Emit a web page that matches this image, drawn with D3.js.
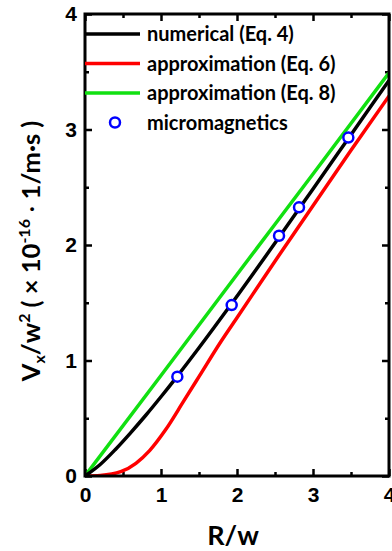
<!DOCTYPE html>
<html>
<head>
<meta charset="utf-8">
<script src="https://cdn.jsdelivr.net/npm/d3@7"></script>
<style>
  body { margin: 0; background: #fff; }
  svg { font-family: Lato, 'Open Sans', sans-serif; font-weight: bold; }
  .tick-label { font-size: 21px; }
  .legend-text { font-size: 20px; }
</style>
</head>
<body>
<svg width="392" height="551"></svg>
<script>
// values
const numericalX = [0, 0.2, 0.4, 0.6, 0.8, 1.0, 1.2, 1.5, 1.93, 2.5, 3.0, 3.5, 4.0];
const numericalY = [0, 0.1, 0.23, 0.374, 0.526, 0.686, 0.852, 1.11, 1.493, 2.017, 2.485, 2.955, 3.425];

const approx6X = [0, 0.2, 0.47, 0.67, 0.85, 1.06, 1.3, 1.5, 1.785, 2.0, 2.5, 3.0, 3.5, 4.0];
const approx6Y = [0, 0.005, 0.037, 0.11, 0.22, 0.4, 0.65, 0.86, 1.16, 1.37, 1.86, 2.34, 2.82, 3.29];

const approx8X = [0, 1.0, 2.0, 3.0, 4.0];
const approx8Y = [0, 0.87, 1.745, 2.615, 3.49];

const microX = [1.215, 1.93, 2.553, 2.816, 3.465];
const microY = [0.86, 1.48, 2.08, 2.326, 2.93];

const xTicks = [0, 1, 2, 3, 4];
const yTicks = [0, 1, 2, 3, 4];
const minorTicks = [0.5, 1.5, 2.5, 3.5];

const legendItems = [
    { label: 'numerical (Eq. 4)', color: '#000000', type: 'line' },
    { label: 'approximation (Eq. 6)', color: '#ff0000', type: 'line' },
    { label: 'approximation (Eq. 8)', color: '#11e011', type: 'line' },
    { label: 'micromagnetics', color: '#0000ff', type: 'circle' }
];

const svg = d3.select('svg');
const width = +svg.attr('width');
const height = +svg.attr('height');

const margin = { top: 14, right: 3, bottom: 75, left: 85 };
const innerWidth = width - margin.left - margin.right;
const innerHeight = height - margin.top - margin.bottom;

const xScale = d3.scaleLinear().domain([0, 4]).range([0, innerWidth]);
const yScale = d3.scaleLinear().domain([0, 4]).range([innerHeight, 0]);

const g = svg.append('g')
    .attr('transform', `translate(${margin.left}, ${margin.top})`);

// inward ticks on all four sides
const addAxis = (axis, transform) => {
    const a = g.append('g').attr('transform', transform).call(axis);
    a.select('.domain').remove();
    a.selectAll('line').attr('stroke', '#000').attr('stroke-width', 2.5);
    return a;
};

const xMajor = addAxis(d3.axisBottom(xScale).tickValues(xTicks).tickSize(-7).tickPadding(11).tickFormat(d3.format('d')),
    `translate(0, ${innerHeight})`);
xMajor.selectAll('text').attr('class', 'tick-label').attr('fill', '#000');
addAxis(d3.axisBottom(xScale).tickValues(minorTicks).tickSize(-4).tickFormat(''), `translate(0, ${innerHeight})`);
addAxis(d3.axisTop(xScale).tickValues(xTicks).tickSize(-7).tickFormat(''), 'translate(0,0)');
addAxis(d3.axisTop(xScale).tickValues(minorTicks).tickSize(-4).tickFormat(''), 'translate(0,0)');

const yMajor = addAxis(d3.axisLeft(yScale).tickValues(yTicks).tickSize(-7).tickPadding(8).tickFormat(d3.format('d')),
    'translate(0,0)');
yMajor.selectAll('text').attr('class', 'tick-label').attr('fill', '#000');
addAxis(d3.axisLeft(yScale).tickValues(minorTicks).tickSize(-4).tickFormat(''), 'translate(0,0)');
addAxis(d3.axisRight(yScale).tickValues(yTicks).tickSize(-7).tickFormat(''), `translate(${innerWidth}, 0)`);
addAxis(d3.axisRight(yScale).tickValues(minorTicks).tickSize(-4).tickFormat(''), `translate(${innerWidth}, 0)`);

// curves
const lineGenerator = d3.line()
    .x(d => xScale(d[0]))
    .y(d => yScale(d[1]))
    .curve(d3.curveMonotoneX);

g.append('clipPath').attr('id', 'plot-clip')
    .append('rect').attr('width', innerWidth).attr('height', innerHeight);

const curves = [
    { xs: approx8X, ys: approx8Y, color: legendItems[2].color },
    { xs: approx6X, ys: approx6Y, color: legendItems[1].color },
    { xs: numericalX, ys: numericalY, color: legendItems[0].color }
];

curves.forEach(c => {
    g.append('path')
        .attr('clip-path', 'url(#plot-clip)')
        .attr('d', lineGenerator(c.xs.map((x, i) => [x, c.ys[i]])))
        .attr('fill', 'none')
        .attr('stroke', c.color)
        .attr('stroke-width', 3.5);
});

g.selectAll('.micro')
    .data(microX.map((x, i) => [x, microY[i]]))
    .enter().append('circle')
    .attr('class', 'micro')
    .attr('cx', d => xScale(d[0]))
    .attr('cy', d => yScale(d[1]))
    .attr('r', 5)
    .attr('fill', '#fff')
    .attr('stroke', '#0000ff')
    .attr('stroke-width', 2.5);

// frame
g.append('rect')
    .attr('width', innerWidth)
    .attr('height', innerHeight)
    .attr('fill', 'none')
    .attr('stroke', '#000')
    .attr('stroke-width', 3);

// legend
const legend = g.append('g');
const rowY = i => 20 + i * 29.5;
legendItems.forEach((d, i) => {
    if (d.type === 'line') {
        legend.append('line')
            .attr('x1', 0).attr('x2', 55)
            .attr('y1', rowY(i)).attr('y2', rowY(i))
            .attr('stroke', d.color).attr('stroke-width', 3.5);
    } else {
        legend.append('circle')
            .attr('cx', 30).attr('cy', rowY(i)).attr('r', 5)
            .attr('fill', '#fff').attr('stroke', d.color).attr('stroke-width', 2.5);
    }
    legend.append('text')
        .attr('class', 'legend-text')
        .attr('x', 62)
        .attr('y', rowY(i))
        .attr('dy', '0.35em')
        .text(d.label);
});

// axis labels
svg.append('text')
    .attr('text-anchor', 'middle')
    .attr('font-size', 27)
    .attr('x', 233)
    .attr('y', 545)
    .text('R/w');

const yLabel = svg.append('text')
    .attr('text-anchor', 'middle')
    .attr('font-size', 25.5)
    .attr('transform', 'translate(40, 251) rotate(-90)');
yLabel.append('tspan').text('V');
yLabel.append('tspan').attr('font-size', 16).attr('dy', 5).text('x');
yLabel.append('tspan').attr('dy', -5).text('/w');
yLabel.append('tspan').attr('font-size', 16).attr('dy', -10).text('2');
yLabel.append('tspan').attr('dy', 10).text(' ( × 10');
yLabel.append('tspan').attr('font-size', 16).attr('dy', -10).text('-16');
yLabel.append('tspan').attr('dy', 10).attr('font-weight', 'normal').text(' · ');
yLabel.append('tspan').text('1/m·s )');
</script>
</body>
</html>
